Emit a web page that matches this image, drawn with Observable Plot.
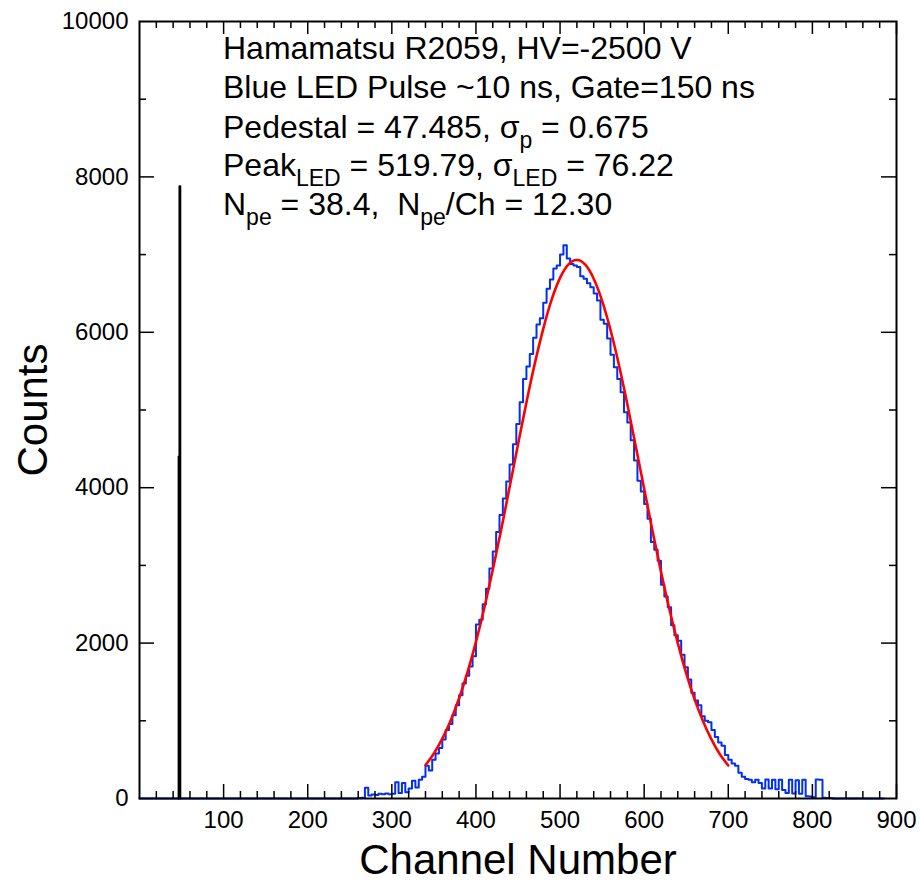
<!DOCTYPE html>
<html><head><meta charset="utf-8">
<script src="https://cdn.jsdelivr.net/npm/d3@7"></script>
<script src="https://cdn.jsdelivr.net/npm/@observablehq/plot@0.6"></script>
<style>body{margin:0;background:#fff}</style>
</head><body><div id="chart"></div>
<script>
// ---- data ----
const xTicks = [100, 200, 300, 400, 500, 600, 700, 800, 900];
const yTicks = [0, 2000, 4000, 6000, 8000, 10000];
const xTitle = "Channel Number";
const yTitle = "Counts";

// LED histogram (blue): counts in 4-channel bins starting at channel 248
const ledBinStart = 248;
const ledBinWidth = 4;
const ledCounts = [
  0, 0, 0, 5, 10, 138, 40, 50, 45, 60, 55, 65, 55, 60, 210, 70, 200, 80, 130, 230,
  140, 240, 280, 420, 360, 500, 580, 650, 760, 880, 960, 1070, 1200, 1330, 1480, 1580, 1700, 1830, 2240, 2300,
  2500, 2700, 2960, 3180, 3430, 3650, 3860, 4080, 4300, 4560, 4820, 5100, 5400, 5560, 5720, 5930, 6100, 6180, 6380, 6560,
  6680, 6820, 6860, 7000, 7120, 6950, 6880, 6860, 6840, 6720, 6690, 6630, 6580, 6500, 6410, 6160, 6110, 5920, 5710, 5550,
  5400, 5230, 4970, 4840, 4610, 4350, 4090, 3950, 3790, 3600, 3300, 3200, 3060, 2750, 2600, 2460, 2230, 2100, 2030, 1850,
  1690, 1530, 1360, 1260, 1200, 1060, 1000, 980, 880, 790, 720, 680, 560, 500, 450, 420, 330, 280, 250, 240,
  210, 240, 200, 130, 245, 130, 240, 120, 240, 110, 70, 240, 65, 235, 60, 240, 30, 25, 15, 245,
  240, 10, 5, 5, 0
];
const ledEnd = 885;

// Pedestal histogram (black)
const pedChannels = [47, 48];
const pedCounts = [4400, 7880];

// Gaussian fit (red), read every 10 channels
const fitChannels = [340, 350, 360, 370, 380, 390, 400, 410, 420, 430, 440, 450, 460, 470, 480, 490, 500, 510, 520,
  530, 540, 550, 560, 570, 580, 590, 600, 610, 620, 630, 640, 650, 660, 670, 680, 690, 700];
const fitCounts = [430, 580, 770, 1005, 1290, 1625, 2015, 2455, 2940, 3460, 4005, 4555, 5095, 5600, 6045, 6420, 6700, 6875, 6930,
  6870, 6690, 6405, 6030, 5580, 5075, 4535, 3985, 3440, 2920, 2435, 2000, 1610, 1275, 995, 760, 570, 425];

// Info box lines: [text, isSubscript]
const infoLines = [
  [["Hamamatsu R2059, HV=-2500 V", false]],
  [["Blue LED Pulse ~10 ns, Gate=150 ns", false]],
  [["Pedestal = 47.485, σ", false], ["p", true], [" = 0.675", false]],
  [["Peak", false], ["LED", true], [" = 519.79, σ", false], ["LED", true], [" = 76.22", false]],
  [["N", false], ["pe", true], [" = 38.4,  N", false], ["pe", true], ["/Ch = 12.30", false]]
];

// ---- build tables ----
const ledPts = [{x: 0, y: 0}];
ledCounts.forEach((c, i) => ledPts.push({x: ledBinStart + i * ledBinWidth, y: c}));
ledPts.push({x: ledBinStart + ledCounts.length * ledBinWidth, y: 0});
ledPts.push({x: ledEnd, y: 0});

const pedPts = [{x: pedChannels[0] - 0.5, y: 0}];
pedChannels.forEach((c, i) => pedPts.push({x: c - 0.5, y: pedCounts[i]}));
pedPts.push({x: pedChannels[pedChannels.length - 1] + 0.5, y: 0});

const fit = fitChannels.map((c, i) => ({x: c, y: fitCounts[i]}));

const W = 920, H = 882;
const mL = 139, mR = 24, mT = 21, mB = 84;
const iw = W - mL - mR, ih = H - mT - mB;

const xMinor = d3.range(20, 900, 20).filter(v => v % 100 !== 0);
const xMajor = xTicks;
const yMinor = d3.range(1000, 10000, 2000);
const yMajor = yTicks.filter(v => v > 0 && v < 10000);

const font = "'Liberation Sans', Arial, Helvetica, sans-serif";

const plot = Plot.plot({
  width: W, height: H,
  marginLeft: mL, marginRight: mR, marginTop: mT, marginBottom: mB,
  x: {domain: [0, 900]},
  y: {domain: [0, 10000]},
  style: {fontFamily: font, background: "white", color: "black", overflow: "visible"},
  marks: [
    Plot.line(ledPts, {x: "x", y: "y", curve: "step-after", stroke: "#0030f8", strokeWidth: 2}),
    Plot.line(pedPts, {x: "x", y: "y", curve: "step-after", stroke: "black", strokeWidth: 2}),
    Plot.line(fit, {x: "x", y: "y", curve: "natural", stroke: "#ff0000", strokeWidth: 2.6}),
    // ticks, inward
    Plot.tickX(xMajor, {x: d => d, insetTop: ih - 14, stroke: "black", strokeWidth: 1.5}),
    Plot.tickX(xMinor, {x: d => d, insetTop: ih - 7, stroke: "black", strokeWidth: 1.5}),
    Plot.tickX(xMajor, {x: d => d, insetBottom: ih - 13, stroke: "black", strokeWidth: 1.5}),
    Plot.tickX(xMinor, {x: d => d, insetBottom: ih - 7, stroke: "black", strokeWidth: 1.5}),
    Plot.tickY(yMajor, {y: d => d, insetRight: iw - 15, stroke: "black", strokeWidth: 1.5}),
    Plot.tickY(yMinor, {y: d => d, insetRight: iw - 7, stroke: "black", strokeWidth: 1.5}),
    Plot.tickY(yMajor, {y: d => d, insetLeft: iw - 15, stroke: "black", strokeWidth: 1.5}),
    Plot.tickY(yMinor, {y: d => d, insetLeft: iw - 7, stroke: "black", strokeWidth: 1.5}),
    Plot.frame({stroke: "black", strokeWidth: 2}),
    Plot.axisX({ticks: xTicks, tickSize: 0, tickPadding: 12, fontSize: 24, label: null, tickFormat: d => String(d)}),
    Plot.axisY({ticks: yTicks, tickSize: 0, tickPadding: 11, fontSize: 24, label: null, tickFormat: d => String(d)}),
    Plot.text([xTitle], {frameAnchor: "bottom", dy: 75, lineAnchor: "bottom", textAnchor: "middle", fontSize: 42, fill: "black", text: d => d}),
    Plot.text([yTitle], {frameAnchor: "left", dx: -93, rotate: -90, lineAnchor: "bottom", textAnchor: "middle", fontSize: 42, fill: "black", text: d => d})
  ]
});

// info text with subscripts
const svg = d3.select(plot);
const g = svg.append("g").attr("font-family", font).attr("fill", "black").attr("text-anchor", "start");
const baselines = [59, 98, 137.5, 176, 215];
infoLines.forEach((segs, i) => {
  const t = g.append("text").attr("x", 223).attr("y", baselines[i]).attr("font-size", 32).attr("text-anchor", "start");
  let shifted = false;
  segs.forEach(([s, sub]) => {
    const ts = t.append("tspan").text(s);
    if (sub) {
      ts.attr("font-size", 23).attr("dy", shifted ? 0 : 10);
      shifted = true;
    } else {
      ts.attr("font-size", 32);
      if (shifted) { ts.attr("dy", -10); shifted = false; }
    }
  });
});

document.getElementById("chart").appendChild(plot);
</script>
</body></html>
